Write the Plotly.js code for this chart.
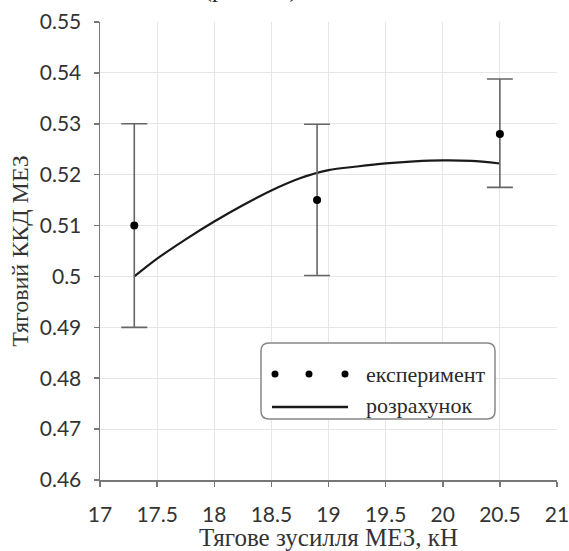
<!DOCTYPE html>
<html>
<head>
<meta charset="utf-8">
<script src="https://cdn.plot.ly/plotly-3.0.1.min.js"></script>
<style>html,body{margin:0;padding:0;background:#fff;}#chart{width:569px;height:551px;}</style>
</head>
<body>
<div id="chart"></div>
<script>
// Experimental points
const expX = [17.3, 18.9, 20.5];
const expY = [0.510, 0.515, 0.528];
const expErrPlus = [0.020, 0.0149, 0.0108];
const expErrMinus = [0.020, 0.0148, 0.0105];
// Calculated curve
const calcX = [17.3, 17.5, 17.75, 18.0, 18.25, 18.5, 18.75, 19.0, 19.25, 19.5, 19.75, 20.0, 20.25, 20.5];
const calcY = [0.500, 0.5035, 0.5073, 0.5108, 0.5140, 0.5169, 0.5193, 0.5209, 0.5216, 0.5222, 0.5226, 0.5228, 0.5227, 0.5222];
// Labels
const xTitle = 'Тягове зусилля МЕЗ, кН';
const yTitle = 'Тяговий ККД МЕЗ';
const legendNames = ['експеримент', 'розрахунок'];
const topText = '(рис. 3.5)';

const traces = [
  {
    x: calcX, y: calcY, mode: 'lines', type: 'scatter', name: legendNames[1],
    line: {color: '#1a1a1a', width: 2.2, shape: 'spline', smoothing: 0.8},
    showlegend: false, hoverinfo: 'skip'
  },
  {
    x: expX, y: expY, mode: 'markers', type: 'scatter', name: legendNames[0],
    marker: {color: '#000', size: 8},
    error_y: {type: 'data', symmetric: false, array: expErrPlus, arrayminus: expErrMinus,
      color: '#666', thickness: 1.6, width: 13},
    showlegend: false, hoverinfo: 'skip'
  }
];

const L = 100, R = 12, T = 22, B = 71;
const W = 569, H = 551;
const pw = W - L - R, ph = H - T - B;
function px(x) { return (x - L) / pw; }
function py(y) { return (H - B - y) / ph; }

// legend box (rounded) in pixel coords converted to paper
const bx0 = 261, bx1 = 495, by0 = 343, by1 = 419, rr = 8;
function P(x, y) { return px(x).toFixed(5) + ',' + py(y).toFixed(5); }
const boxPath = 'M ' + P(bx0 + rr, by0) + ' L ' + P(bx1 - rr, by0) +
  ' Q ' + P(bx1, by0) + ' ' + P(bx1, by0 + rr) +
  ' L ' + P(bx1, by1 - rr) + ' Q ' + P(bx1, by1) + ' ' + P(bx1 - rr, by1) +
  ' L ' + P(bx0 + rr, by1) + ' Q ' + P(bx0, by1) + ' ' + P(bx0, by1 - rr) +
  ' L ' + P(bx0, by0 + rr) + ' Q ' + P(bx0, by0) + ' ' + P(bx0 + rr, by0) + ' Z';

const shapes = [
  {type: 'path', xref: 'paper', yref: 'paper', path: boxPath,
   line: {color: '#888', width: 1.5}, fillcolor: '#fff', layer: 'above'},
  {type: 'line', xref: 'paper', yref: 'paper', x0: px(272), x1: px(348), y0: py(407), y1: py(407),
   line: {color: '#1a1a1a', width: 2.4}, layer: 'above'}
];
[275, 309, 345].forEach(cx => {
  shapes.push({type: 'circle', xref: 'paper', yref: 'paper',
    x0: px(cx - 3.5), x1: px(cx + 3.5), y0: py(374 + 3.5), y1: py(374 - 3.5),
    fillcolor: '#000', line: {color: '#000', width: 0}, layer: 'above'});
});

const serif = 'Liberation Serif, Times New Roman, serif';
const annotations = [
  {xref: 'paper', yref: 'paper', x: px(364), y: py(374), xanchor: 'left', yanchor: 'middle',
   text: legendNames[0], showarrow: false, font: {family: serif, size: 22, color: '#2a2a2a'}},
  {xref: 'paper', yref: 'paper', x: px(364), y: py(405), xanchor: 'left', yanchor: 'middle',
   text: legendNames[1], showarrow: false, font: {family: serif, size: 22, color: '#2a2a2a'}},
  {xref: 'paper', yref: 'paper', x: px(250), y: py(4), xanchor: 'center', yanchor: 'bottom',
   text: topText, showarrow: false, font: {family: serif, size: 24, color: '#222'}}
];

const tickFont = {family: 'Lato, Open Sans, sans-serif', size: 21, color: '#333'};
const layout = {
  width: W, height: H,
  margin: {l: L, r: R, t: T, b: B, pad: 0},
  paper_bgcolor: '#fff', plot_bgcolor: '#fff',
  showlegend: false,
  xaxis: {
    range: [17, 21], dtick: 0.5, tick0: 17,
    showgrid: true, gridcolor: '#e6e6e6', gridwidth: 1.2,
    zeroline: false, showline: true, linecolor: '#777', linewidth: 1.5,
    ticks: 'outside', ticklen: 5, tickcolor: '#777', tickwidth: 1.5,
    tickfont: tickFont, ticklabelstandoff: 10, ticklabeloverflow: 'allow',
    automargin: false,
    title: {text: xTitle, font: {family: serif, size: 25, color: '#333'}, standoff: 2}
  },
  yaxis: {
    range: [0.46, 0.55], dtick: 0.01, tick0: 0.46,
    showgrid: true, gridcolor: '#e6e6e6', gridwidth: 1.2,
    zeroline: false, showline: true, linecolor: '#777', linewidth: 1.5,
    ticks: 'outside', ticklen: 5, tickcolor: '#777', tickwidth: 1.5,
    tickfont: tickFont, ticklabelstandoff: 8, ticklabeloverflow: 'allow',
    automargin: false,
    title: {text: yTitle, font: {family: serif, size: 24, color: '#333'}, standoff: 4}
  },
  shapes: shapes,
  annotations: annotations
};

Plotly.newPlot('chart', traces, layout, {staticPlot: true, displayModeBar: false});
</script>
</body>
</html>
